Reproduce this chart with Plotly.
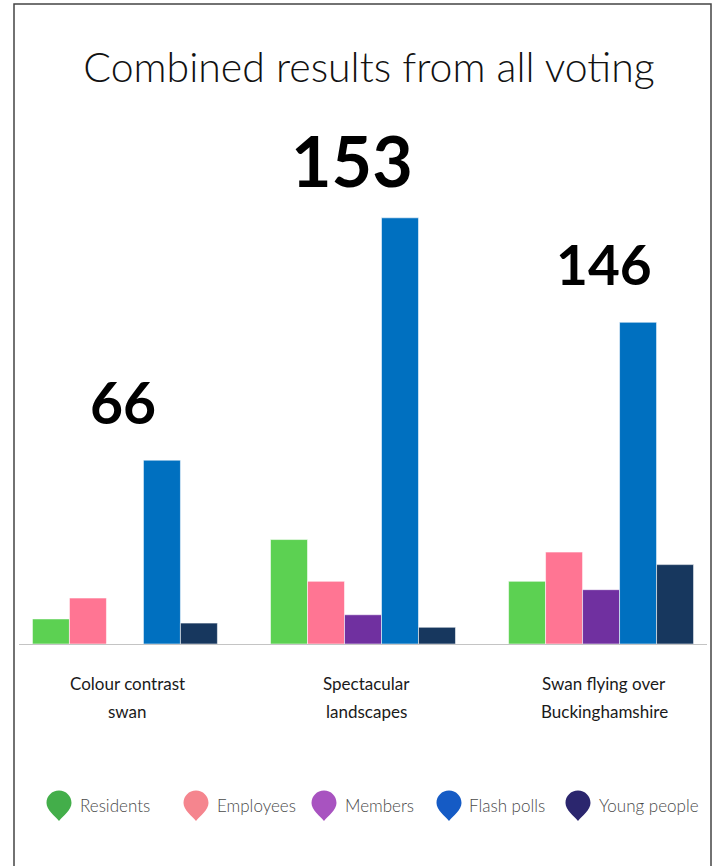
import plotly.graph_objects as go

# ---------------- data ----------------
categories = ["Colour contrast swan", "Spectacular landscapes", "Swan flying over Buckinghamshire"]
category_lines = [["Colour contrast", "swan"], ["Spectacular", "landscapes"], ["Swan flying over", "Buckinghamshire"]]
series_names = ["Residents", "Employees", "Members", "Flash polls", "Young people"]
residents = [6, 25, 15]
employees = [11, 15, 22]
members = [0, 7, 13]
flash_polls = [44, 102, 77]
young_people = [5, 4, 19]
title_text = "Combined results from all voting"

series_values = [residents, employees, members, flash_polls, young_people]
bar_colors = ["#5cd152", "#ff7593", "#7030a0", "#0070c0", "#17375e"]
legend_colors = ["#43ae4a", "#f5858e", "#a853c0", "#155bc5", "#2b266e"]

totals = [sum(v[i] for v in series_values) for i in range(len(categories))]
peaks = [max(v[i] for v in series_values) for i in range(len(categories))]

# ---------------- layout geometry (pixels) ----------------
W, H = 718, 866
L, R, T, B = 19, 707, 100, 644


def px(x):
    return (x - L) / (R - L)


def py(y):
    return (B - y) / (B - T)


fig = go.Figure()
for name, vals, col in zip(series_names, series_values, bar_colors):
    fig.add_trace(go.Bar(
        x=categories, y=vals, name=name, marker_color=col,
        marker_line=dict(color="rgba(255,255,255,0.55)", width=1),
        showlegend=False, hoverinfo="x+y+name",
    ))

annotations = []
# totals above groups
total_sizes = [57, 70, 55]
total_xshift = [-2, -11, 3]
for i, cat in enumerate(categories):
    annotations.append(dict(
        x=cat, y=peaks[i], xref="x", yref="y", text=f"<b>{totals[i]}</b>",
        showarrow=False, yanchor="middle", yshift=58, xshift=total_xshift[i],
        font=dict(family="Lato, Roboto, sans-serif", size=total_sizes[i], color="#000000", weight=900),
    ))
# category labels (two lines)
line_y = [683, 711]
for i, cat in enumerate(categories):
    for j, line in enumerate(category_lines[i]):
        annotations.append(dict(
            x=cat, y=py(line_y[j]), xref="x", yref="paper", text=line,
            showarrow=False, yanchor="middle", xshift=3,
            font=dict(family="Lato, sans-serif", size=17, color="#1a1a1a"),
        ))

# custom legend with map-pin markers
shapes = []
pin_cx = [59, 196, 324, 449, 578]
text_x = [78, 215, 343, 467, 597]
pin_cy = 806


def pin_path(cx, cy):
    r = 12.5
    c = cy - 3
    pts = [
        ("M", [(cx, cy + 15)]),
        ("C", [(cx - 4, cy + 10), (cx - r, cy + 4), (cx - r, c)]),
        ("C", [(cx - r, c - 7), (cx - 7, c - r), (cx, c - r)]),
        ("C", [(cx + 7, c - r), (cx + r, c - 7), (cx + r, c)]),
        ("C", [(cx + r, cy + 4), (cx + 4, cy + 10), (cx, cy + 15)]),
    ]
    s = ""
    for cmd, ps in pts:
        s += cmd + " " + " ".join(f"{px(a):.5f},{py(b):.5f}" for a, b in ps) + " "
    return s + "Z"


for k, name in enumerate(series_names):
    shapes.append(dict(type="path", xref="paper", yref="paper", path=pin_path(pin_cx[k], pin_cy),
                       fillcolor=legend_colors[k], line=dict(width=0)))
    annotations.append(dict(
        x=px(text_x[k]), y=py(805), xref="paper", yref="paper", text=name,
        showarrow=False, xanchor="left", yanchor="middle",
        font=dict(family="Lato, sans-serif", size=17, color="#4a4a4a", weight=300),
    ))

# outer frame
shapes.append(dict(type="rect", xref="paper", yref="paper",
                   x0=px(14), x1=px(711), y0=py(880), y1=py(4),
                   line=dict(color="#444444", width=1.5), fillcolor="rgba(0,0,0,0)"))

fig.update_layout(
    width=W, height=H,
    margin=dict(l=L, r=W - R, t=T, b=H - B, pad=0),
    paper_bgcolor="white", plot_bgcolor="white",
    barmode="group", bargap=0.223, bargroupgap=0,
    title=dict(text=title_text, x=px(369), xref="paper", xanchor="center",
               y=1 - 68 / H, yref="container", yanchor="middle",
               font=dict(family="Lato, sans-serif", size=41, color="#111111", weight=300)),
    xaxis=dict(type="category", range=[-0.445, 2.445], showticklabels=False, ticks="",
               showline=True, linecolor="#c4c4c4", linewidth=1, showgrid=False, zeroline=False),
    yaxis=dict(range=[0, 130.2], visible=False, showgrid=False, zeroline=False),
    annotations=annotations, shapes=shapes, showlegend=False,
)

fig.write_html("out.html", config={"displayModeBar": False},
               post_script="document.body.style.margin='0';document.body.style.overflow='hidden';")
